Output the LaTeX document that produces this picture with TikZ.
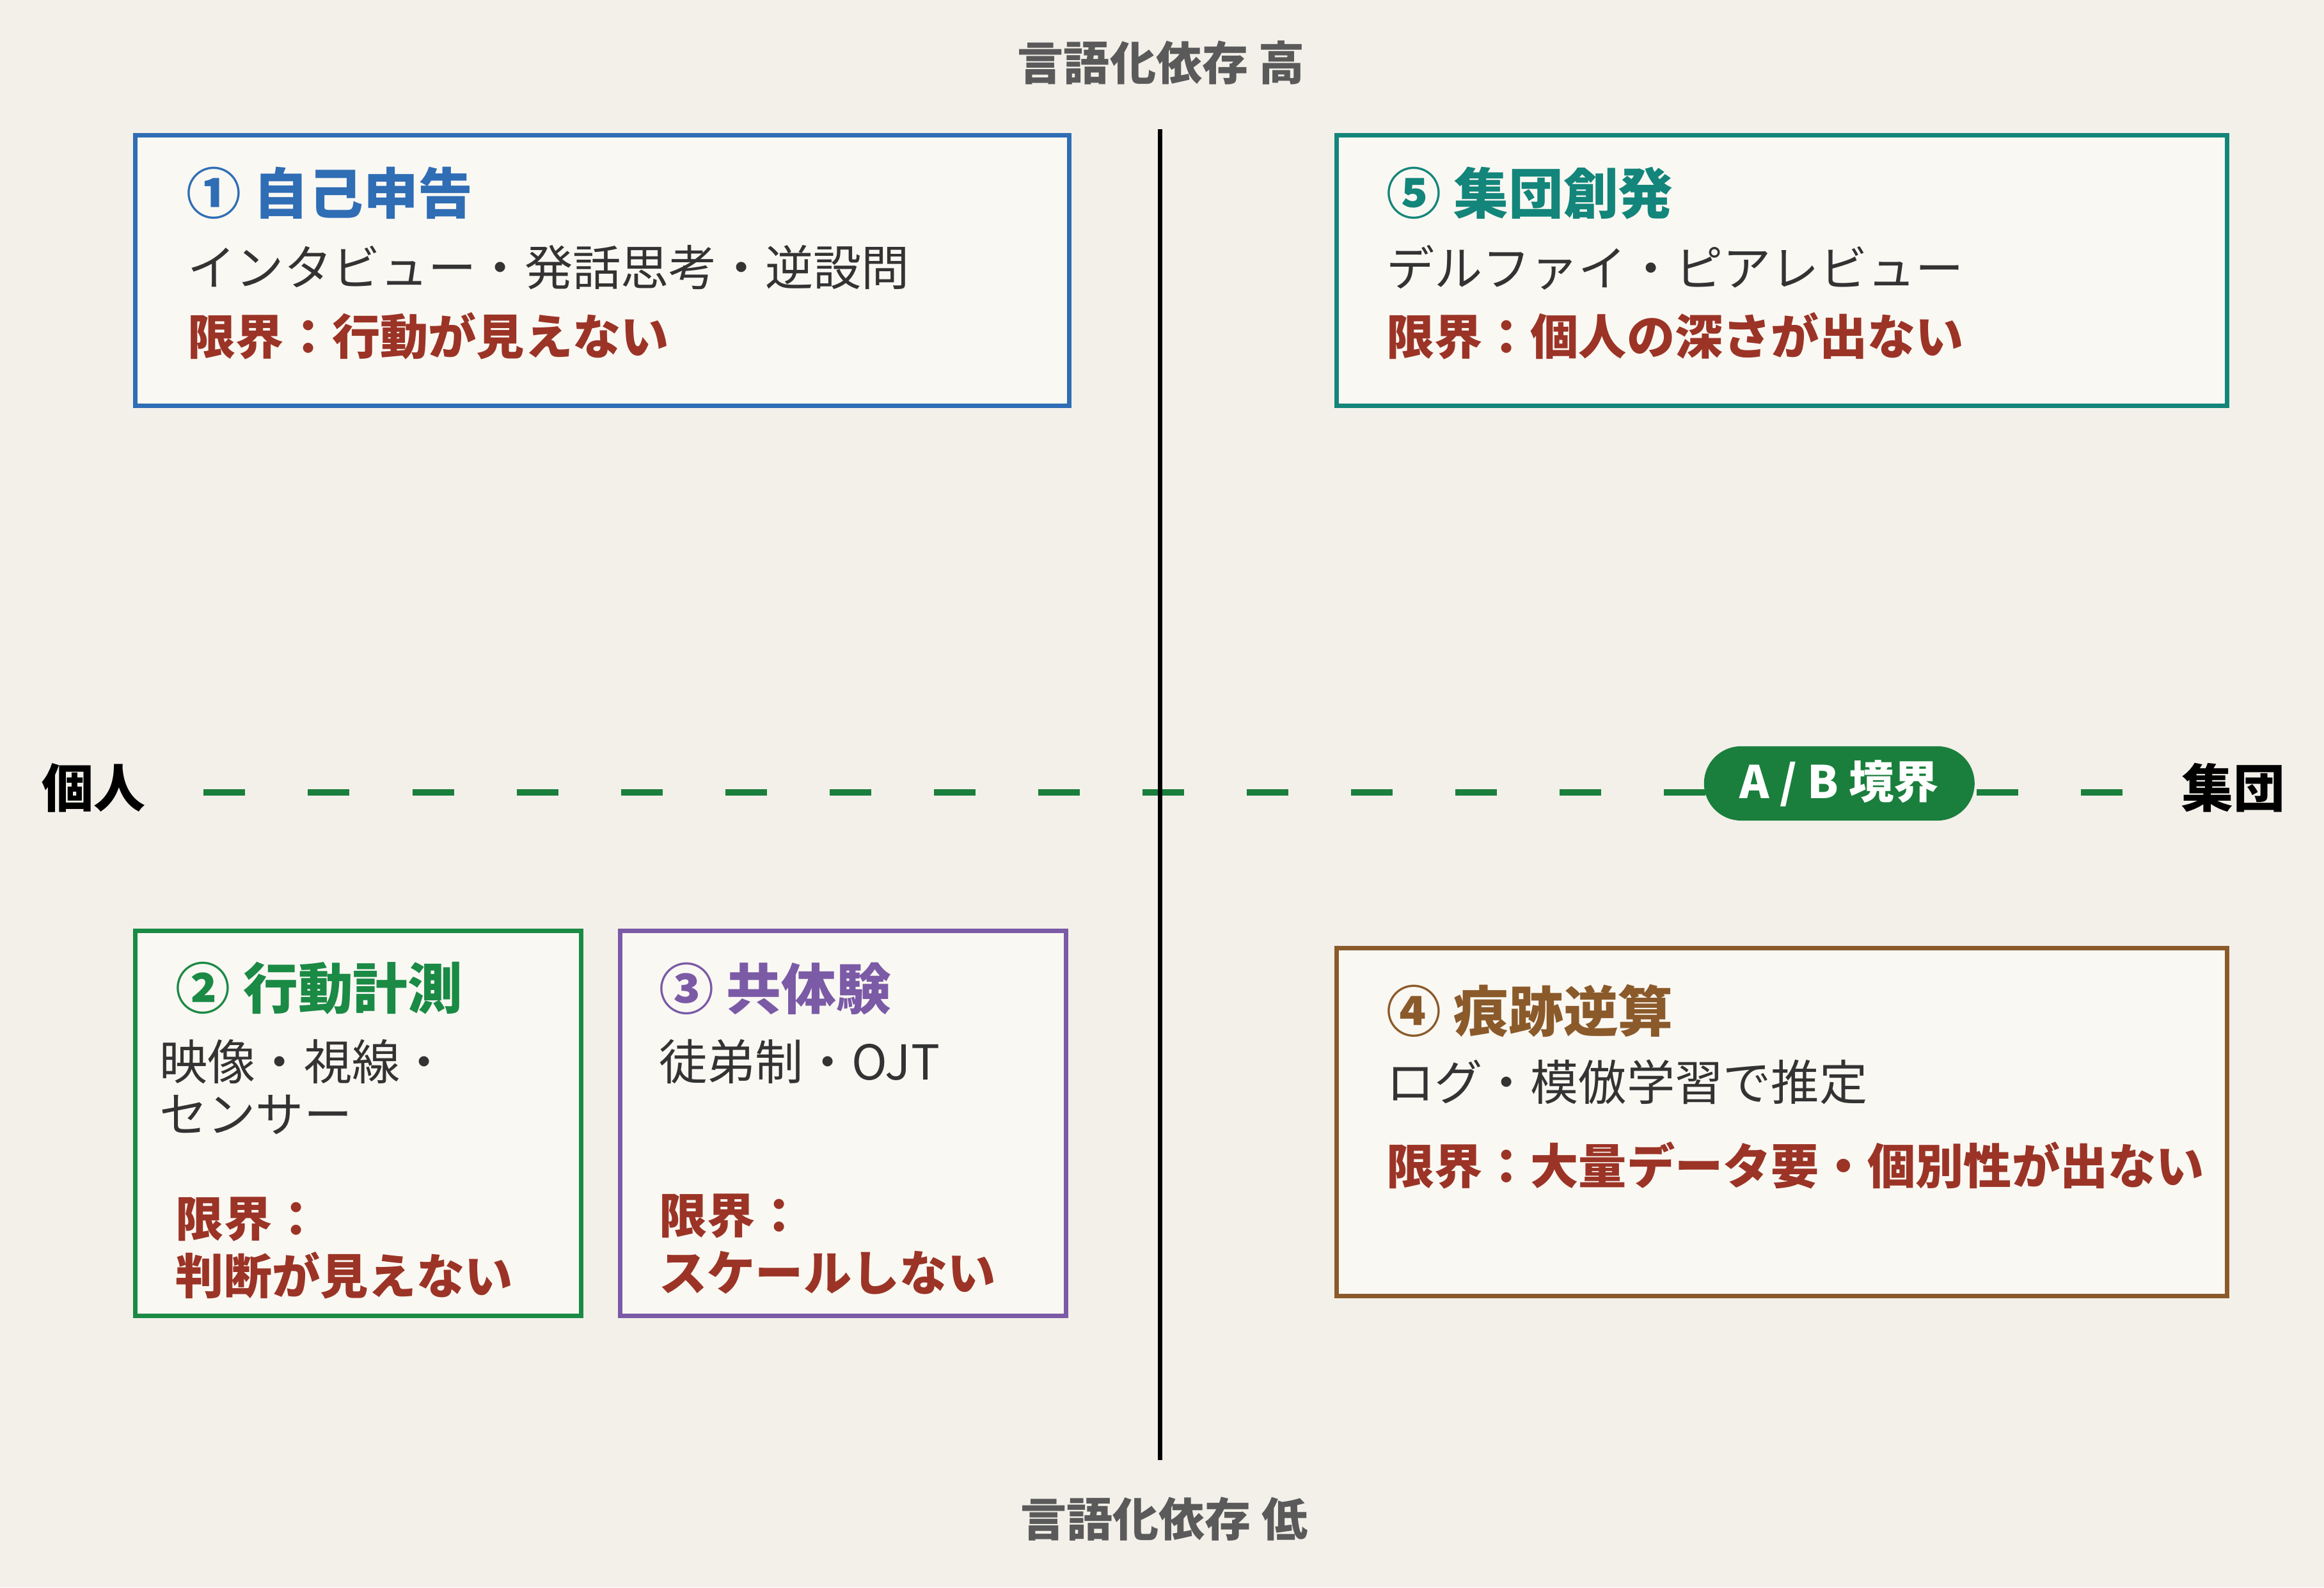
\documentclass[tikz,border=0pt]{standalone}
\usepackage{fontspec}
\setmainfont{Noto Sans CJK JP}
\begin{document}
\definecolor{bg}{HTML}{F3F0E9}
\definecolor{boxbg}{HTML}{FAF8F3}
\definecolor{cblue}{HTML}{2F6DB5}
\definecolor{cteal}{HTML}{13857A}
\definecolor{cgreen}{HTML}{1A8A45}
\definecolor{cpurple}{HTML}{7B5AA6}
\definecolor{cbrown}{HTML}{8B5A2B}
\definecolor{cred}{HTML}{9B3426}
\definecolor{cgray}{HTML}{5A5A5A}
\definecolor{ctext}{HTML}{333333}
\definecolor{cdash}{HTML}{1A7F3C}
\begin{tikzpicture}[x=0.02324cm,y=-0.02324cm,
  box/.style={draw=#1,line width=2pt,fill=boxbg},
  ttl/.style={anchor=west,inner sep=0,font=\fontsize{24.4}{28}\selectfont\bfseries},
  body/.style={anchor=west,inner sep=0,text=ctext,font=\fontsize{21.4}{25}\selectfont},
  lim/.style={anchor=west,inner sep=0,text=cred,font=\fontsize{21.4}{25}\selectfont\bfseries},
  axis/.style={inner sep=0,text=cgray,font=\fontsize{20.5}{24}\selectfont\bfseries},
  side/.style={inner sep=0,text=black,font=\fontsize{23}{27}\selectfont\bfseries}]
\fill[bg] (0,0) rectangle (1563,1068);
\useasboundingbox (0,0) rectangle (1563,1068);
% axes
\coordinate (vt) at (780,87); \coordinate (vb) at (780,982);
\coordinate (hl) at (137,533); \coordinate (hr) at (1430,533);
\draw[cdash,line width=2.7pt,dash pattern=on 0.65cm off 0.98cm] (hl) -- (hr);
\draw[black,line width=2pt] (vt) -- (vb);
\node[axis] (top) at (781,42) {言語化依存 高};
\node[axis] (bot) at (783,1022) {言語化依存 低};
\node[side] (ind) at (63,530) {個人};
\node[side] (grp) at (1502,530) {集団};
\node[fill=cdash,text=white,rounded corners=0.58cm,minimum width=182*0.02324cm,minimum height=50*0.02324cm,inner sep=0,font=\fontsize{20}{24}\selectfont\bfseries] (ab) at (1237,527) {A / B 境界};
% box 1
\draw[box=cblue] (91,91) rectangle (719,273);
\node[ttl,text=cblue] (t1) at (125,130) {① 自己申告};
\node[body] (b1) at (126,180) {インタビュー・発話思考・逆設問};
\node[lim] (l1) at (126,226) {限界：行動が見えない};
% box 5
\draw[box=cteal] (899,91) rectangle (1498,273);
\node[ttl,text=cteal] (t5) at (932,130) {⑤ 集団創発};
\node[body] (b5) at (932,180) {デルファイ・ピアレビュー};
\node[lim] (l5) at (932,226) {限界：個人の深さが出ない};
% box 2
\draw[box=cgreen] (91,626) rectangle (391,885);
\node[ttl,text=cgreen] (t2) at (118,665) {② 行動計測};
\node[body] (b2a) at (107,714) {映像・視線・};
\node[body] (b2b) at (107,750) {センサー};
\node[lim] (l2a) at (118,820) {限界：};
\node[lim] (l2b) at (118,858) {判断が見えない};
% box 3
\draw[box=cpurple] (417,626) rectangle (717,885);
\node[ttl,text=cpurple] (t3) at (443,665) {③ 共体験};
\node[body] (b3) at (443,714) {徒弟制・OJT};
\node[lim] (l3a) at (443,818) {限界：};
\node[lim] (l3b) at (443,856) {スケールしない};
% box 4
\draw[box=cbrown] (899,638) rectangle (1498,872);
\node[ttl,text=cbrown] (t4) at (932,680) {④ 痕跡逆算};
\node[body] (b4) at (932,728) {ログ・模倣学習で推定};
\node[lim] (l4) at (932,784) {限界：大量データ要・個別性が出ない};
\end{tikzpicture}
\end{document}
